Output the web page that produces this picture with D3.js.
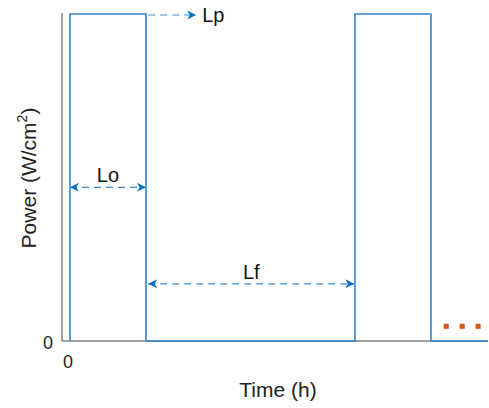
<!DOCTYPE html>
<html>
<head>
<meta charset="utf-8">
<script src="https://cdn.jsdelivr.net/npm/d3@7"></script>
<style>
  body { margin: 0; background: #fff; }
  text { font-family: "Liberation Sans", Arial, sans-serif; }
</style>
</head>
<body>
<svg id="chart" width="489" height="408"></svg>
<script>
// pulse train: time (h) and power (normalised)
const times  = [0, 0, 1, 1, 3.75, 3.75, 4.75, 4.75, 5.5];
const powers = [0, 1, 1, 0, 0,    1,    1,    0,    0];
const xTicks = [0];
const yTicks = [0];

// annotations: [label, x1, x2, y, two-headed]
const spans = [
  ["Lo", 0, 1, 0.47, true],
  ["Lf", 1.03, 3.74, 0.175, true]
];
const pulseLabel = ["Lp", 1.03, 1.66, 0.997];
const dots = [4.95, 5.16, 5.37];

const svg = d3.select("#chart");
const margin = {top: 14, right: 1, bottom: 67, left: 62};
const W = 489, H = 408;

const x = d3.scaleLinear().domain([-0.105, 5.5]).range([margin.left, W - margin.right]);
const y = d3.scaleLinear().domain([0, 1]).range([H - margin.bottom, margin.top]);

const blue = "#0072BD";
const gray = "#808080";

// axes
svg.append("line")
  .attr("x1", x(-0.105)).attr("x2", x(5.5))
  .attr("y1", y(0)).attr("y2", y(0))
  .attr("stroke", gray).attr("stroke-width", 1.5);
svg.append("line")
  .attr("x1", x(-0.105)).attr("x2", x(-0.105))
  .attr("y1", y(0)).attr("y2", y(1) - 1)
  .attr("stroke", gray).attr("stroke-width", 1.5);

svg.selectAll(".xt").data(xTicks).join("text")
  .attr("x", d => x(d) - 2).attr("y", y(0) + 27)
  .attr("text-anchor", "middle").attr("font-size", 18).attr("fill", "#222")
  .text(d => d);
svg.selectAll(".yt").data(yTicks).join("text")
  .attr("x", margin.left - 9).attr("y", d => y(d) + 8)
  .attr("text-anchor", "end").attr("font-size", 18).attr("fill", "#222")
  .text(d => d);

// axis titles
svg.append("text")
  .attr("x", 278).attr("y", 397)
  .attr("text-anchor", "middle").attr("font-size", 21).attr("fill", "#222")
  .text("Time (h)");
const yl = svg.append("text")
  .attr("transform", `translate(36, 178) rotate(-90)`)
  .attr("text-anchor", "middle").attr("font-size", 21).attr("fill", "#222");
yl.append("tspan").text("Power (W/cm");
yl.append("tspan").attr("font-size", 14).attr("dy", -9).text("2");
yl.append("tspan").attr("dy", 9).text(")");

// the pulse train
const line = d3.line().x((d, i) => x(times[i])).y(d => y(d));
svg.append("path")
  .attr("d", line(powers))
  .attr("fill", "none").attr("stroke", "#2f86c9").attr("stroke-width", 1.6);

// arrowhead marker (swept back)
const defs = svg.append("defs");
defs.append("marker")
  .attr("id", "head").attr("viewBox", "0 0 10 10")
  .attr("refX", 10).attr("refY", 5)
  .attr("markerWidth", 12).attr("markerHeight", 9)
  .attr("markerUnits", "userSpaceOnUse")
  .attr("orient", "auto-start-reverse")
  .append("path")
  .attr("d", "M0,0 L10,5 L0,10 L3,5 Z")
  .attr("fill", blue);

spans.forEach(([lab, a, b, v, both]) => {
  svg.append("line")
    .attr("x1", x(a)).attr("x2", x(b))
    .attr("y1", y(v)).attr("y2", y(v))
    .attr("stroke", "#3a8fd0").attr("stroke-width", 1.2)
    .attr("stroke-dasharray", "7,5")
    .attr("marker-end", "url(#head)")
    .attr("marker-start", both ? "url(#head)" : null);
  svg.append("text")
    .attr("x", (x(a) + x(b)) / 2).attr("y", y(v) - 5)
    .attr("text-anchor", "middle").attr("font-size", 20).attr("fill", "#111")
    .text(lab);
});

svg.append("line")
  .attr("x1", x(pulseLabel[1])).attr("x2", x(pulseLabel[2]))
  .attr("y1", y(pulseLabel[3])).attr("y2", y(pulseLabel[3]))
  .attr("stroke", "#3a8fd0").attr("stroke-width", 1.2)
  .attr("stroke-dasharray", "7,5")
  .attr("marker-end", "url(#head)");
svg.append("text")
  .attr("x", x(pulseLabel[2]) + 6).attr("y", y(pulseLabel[3]) + 7)
  .attr("font-size", 20).attr("fill", "#111")
  .text(pulseLabel[0]);

// continuation dots
svg.selectAll(".dot").data(dots).join("rect")
  .attr("x", d => x(d) - 2.5).attr("y", y(0.045) - 2.5)
  .attr("width", 5).attr("height", 5)
  .attr("fill", "#D95319");
</script>
</body>
</html>
